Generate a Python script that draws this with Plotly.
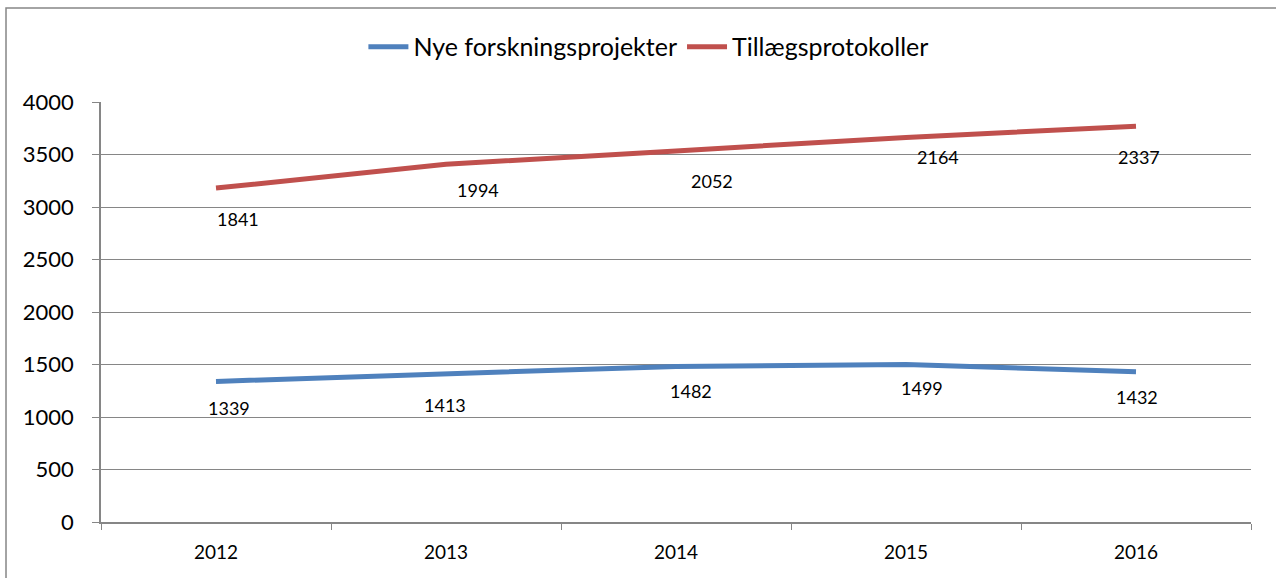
import plotly.graph_objects as go

years = ["2012", "2013", "2014", "2015", "2016"]
nye = [1339, 1413, 1482, 1499, 1432]
tillaeg = [1841, 1994, 2052, 2164, 2337]
series_names = ["Nye forskningsprojekter", "Tillægsprotokoller"]
y_ticks = [0, 500, 1000, 1500, 2000, 2500, 3000, 3500, 4000]

# label pixel offsets (styling, not data)
nye_off = [(13, -27), (-1, -31), (15, -25), (16, -23), (1, -25)]
til_off = [(22, -31), (32, -26), (36, -30), (32, -20), (3, -31)]

blue = "#4F81BD"
red = "#C0504D"
font = "Lato, 'Open Sans', sans-serif"

fig = go.Figure()
fig.add_trace(go.Scatter(x=years, y=nye, name=series_names[0], mode="lines",
                         stackgroup="s", fill="none",
                         line=dict(color=blue, width=5)))
fig.add_trace(go.Scatter(x=years, y=tillaeg, name=series_names[1], mode="lines",
                         stackgroup="s", fill="none",
                         line=dict(color=red, width=5)))

annotations = []
for i, yr in enumerate(years):
    annotations.append(dict(x=i, y=nye[i], xref="x", yref="y", text=str(nye[i]),
                            showarrow=False,
                            xshift=nye_off[i][0], yshift=nye_off[i][1],
                            font=dict(size=18, color="black", family=font)))
    cum = nye[i] + tillaeg[i]
    annotations.append(dict(x=i, y=cum, xref="x", yref="y", text=str(tillaeg[i]),
                            showarrow=False,
                            xshift=til_off[i][0], yshift=til_off[i][1],
                            font=dict(size=18, color="black", family=font)))

fig.update_layout(
    width=1276, height=578,
    margin=dict(l=101, r=25, t=102, b=56, autoexpand=False),
    paper_bgcolor="white", plot_bgcolor="white",
    font=dict(family=font, color="black"),
    showlegend=True,
    legend=dict(orientation="h", x=0.476, y=1.131, xanchor="center", yanchor="middle",
                font=dict(size=25, family=font), itemwidth=40,
                bgcolor="rgba(0,0,0,0)", traceorder="normal"),
    annotations=annotations,
    shapes=[dict(type="rect", xref="paper", yref="paper",
                 x0=-0.0826, x1=1.2, y0=-0.3, y1=1.2238,
                 line=dict(color="#868686", width=1.5), fillcolor="rgba(0,0,0,0)",
                 layer="below")],
    xaxis=dict(type="category", range=[-0.5, 4.5], tickson="boundaries",
               ticks="outside", ticklen=6, tickcolor="#868686",
               showline=True, linecolor="#868686", linewidth=1.5,
               showgrid=False, tickfont=dict(size=19, family=font),
               ticklabelstandoff=12),
    yaxis=dict(range=[0, 4000], tickvals=y_ticks, ticks="outside", ticklen=7,
               tickcolor="#868686", showline=True, linecolor="#868686", linewidth=1.5,
               showgrid=True, gridcolor="#868686", gridwidth=1.2, zeroline=False,
               tickfont=dict(size=22, family=font), ticklabelstandoff=14),
)

fig.write_html("out.html", config={"displayModeBar": False},
               post_script="document.body.style.margin='0';document.body.style.overflow='hidden';")
